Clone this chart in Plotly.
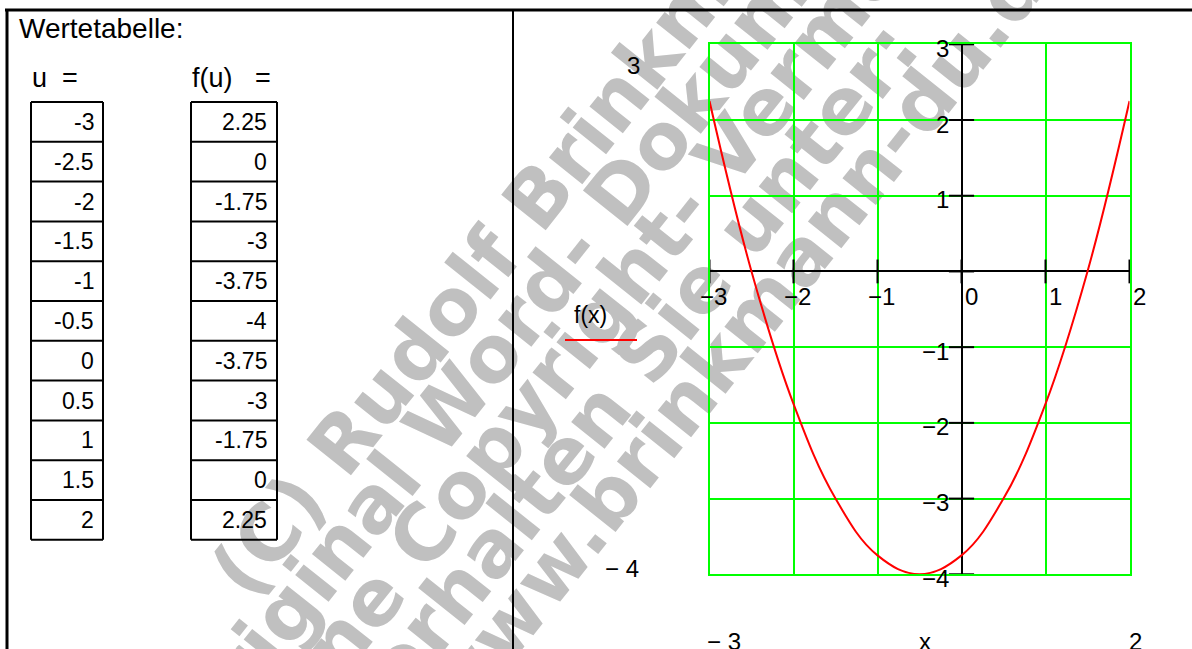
import plotly.graph_objects as go

W, H = 1192, 649

# Wertetabelle
u_vals = [-3, -2.5, -2, -1.5, -1, -0.5, 0, 0.5, 1, 1.5, 2]
f_vals = [2.25, 0, -1.75, -3, -3.75, -4, -3.75, -3, -1.75, 0, 2.25]

# axis labels as drawn by Mathcad
x_ticks = [-3, -2, -1, 0, 1, 2]
x_tick_text = ['−3', '−2', '−1', '0', '1', '2']
y_ticks = [3, 2, 1, -1, -2, -3, -4]
y_tick_text = ['3', '2', '1', '−1', '−2', '−3', '−4']
y_marks = [3, 2, 1, 0, -1, -2, -3, -4]

watermark = ['(C) Rudolf Brinkmann', 'Original Word- Dokumente',
             'ohne Copyright- Vermerk', 'erhalten Sie unter:', 'www.brinkmann-du.de']
wm_centers = [(518, 212), (547, 274), (593, 312), (637, 355), (746, 315)]

FONT = 'Liberation Sans, Arial, sans-serif'


def px(x):
    return x / W


def py(y):
    return 1 - y / H


def hline(x0, x1, y, w=2, color='black'):
    return dict(type='line', xref='paper', yref='paper', x0=px(x0), x1=px(x1),
                y0=py(y), y1=py(y), line=dict(color=color, width=w))


def vline(x, y0, y1, w=2, color='black'):
    return dict(type='line', xref='paper', yref='paper', x0=px(x), x1=px(x),
                y0=py(y0), y1=py(y1), line=dict(color=color, width=w))


def text(s, x, y, size, xanchor='center'):
    return dict(text=s, xref='paper', yref='paper', x=px(x), y=py(y), showarrow=False,
                xanchor=xanchor, yanchor='middle', font=dict(family=FONT, size=size, color='black'))


shapes = []
ann = []

# watermark (behind everything)
for s, (cx, cy) in zip(watermark, wm_centers):
    dx, dy = 0.6225 * 100, -0.7826 * 100
    shapes.append(dict(type='line', xref='paper', yref='paper', layer='below',
                       x0=px(cx - dx), y0=py(cy - dy), x1=px(cx + dx), y1=py(cy + dy),
                       line=dict(color='rgba(0,0,0,0)', width=0.5),
                       label=dict(text=s, textposition='middle', yanchor='middle',
                                  font=dict(family='DejaVu Sans', size=78, color='#c0c0c0',
                                            weight='bold'))))

# frame of the worksheet regions
shapes.append(hline(5, W, 10, 3))
shapes.append(vline(7, 10, H, 3))
shapes.append(vline(513, 10, H, 2))

# table
top, row_h = 102, 39.8
for col_x0, col_x1, vals, right in [(31, 103, u_vals, 96), (191, 277, f_vals, 269)]:
    bottom = top + row_h * len(vals)
    shapes.append(vline(col_x0, top, bottom))
    shapes.append(vline(col_x1, top, bottom))
    for i, v in enumerate(vals):
        shapes.append(hline(col_x0, col_x1, top + row_h * i))
        ann.append(text(f'{v:g}', right, top + row_h * (i + 0.5), 23, 'right'))
    shapes.append(hline(col_x0, col_x1, bottom))

ann.append(text('Wertetabelle:', 17, 28, 28, 'left'))
ann.append(text('u', 30, 78, 27, 'left'))
ann.append(text('=', 60, 78, 27, 'left'))
ann.append(text('f(u)', 190, 78, 27, 'left'))
ann.append(text('=', 253, 78, 27, 'left'))

# plot region labels
ann.append(text('3', 633, 65, 24))
ann.append(text('− 4', 622, 568, 24))
ann.append(text('f(x)', 590, 315, 23))
ann.append(text('− 3', 724, 641, 24))
ann.append(text('x', 925, 641, 24))
ann.append(text('2', 1135, 641, 24))
shapes.append(hline(565, 637, 340, 2, 'red'))

for v, t in zip(x_ticks, x_tick_text):
    ann.append(dict(text=t, xref='x', yref='y', x=v, y=0, showarrow=False,
                    xanchor='left', yanchor='top', xshift=-12 if v < 0 else 1, yshift=-10,
                    font=dict(family=FONT, size=24, color='black')))
for v, t in zip(y_ticks, y_tick_text):
    ann.append(dict(text=t, xref='x', yref='y', x=0, y=v, showarrow=False,
                    xanchor='right', yanchor='middle', xshift=-11, yshift=-4,
                    font=dict(family=FONT, size=24, color='black')))

fig = go.Figure()
fig.add_trace(go.Scatter(x=u_vals, y=f_vals, mode='lines', name='f(x)',
                         line=dict(color='red', width=2, shape='spline', smoothing=1.1)))
fig.add_trace(go.Scatter(x=x_ticks, y=[0] * len(x_ticks), mode='markers', cliponaxis=False,
                         marker=dict(symbol='line-ns', size=17, line=dict(color='black', width=2))))
fig.add_trace(go.Scatter(x=[0] * len(y_marks), y=y_marks, mode='markers', cliponaxis=False,
                         marker=dict(symbol='line-ew', size=18, line=dict(color='black', width=2))))

axis = dict(showgrid=True, gridcolor='#00ff00', gridwidth=1.5, dtick=1, tick0=0,
            zeroline=True, zerolinecolor='black', zerolinewidth=2,
            showticklabels=False, ticks='', showline=True, linecolor='#00ff00',
            linewidth=1.5, mirror=True)
fig.update_layout(
    width=W, height=H, margin=dict(l=0, r=0, t=0, b=0),
    paper_bgcolor='white', plot_bgcolor='rgba(0,0,0,0)', showlegend=False,
    xaxis=dict(axis, range=[-3, 2], domain=[px(709.5), px(1129.5)]),
    yaxis=dict(axis, range=[-4, 3], domain=[py(574.3), py(44.3)]),
    shapes=shapes, annotations=ann,
)
fig.write_html("out.html", config={'displayModeBar': False},
               post_script="document.body.style.margin='0px';")
